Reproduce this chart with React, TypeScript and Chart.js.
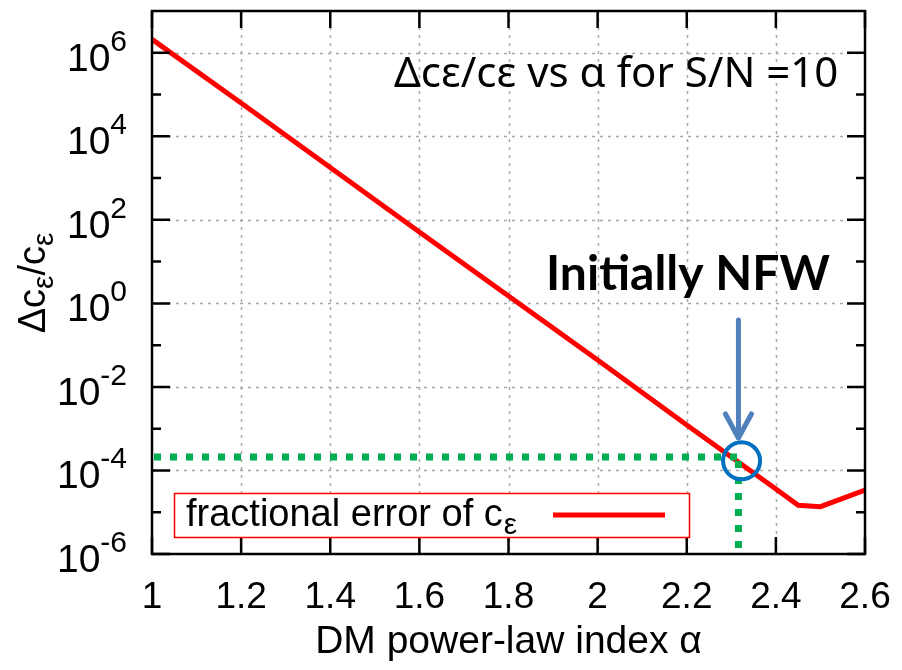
import React, { useEffect, useRef } from "react";
import { Chart, registerables } from "chart.js";

Chart.register(...registerables);

// ---- data ----
const alphaValues = [1.0, 1.2, 1.4, 1.6, 1.8, 2.0, 2.2, 2.3, 2.4, 2.45, 2.5, 2.6];
const fractionalError = [2.1e6, 6.3e4, 1.8e3, 5.1e1, 1.5e0, 4.4e-2, 1.23e-3, 2.1e-4, 3.6e-5, 1.47e-5, 1.36e-5, 3.4e-5];
const xTickValues = [1, 1.2, 1.4, 1.6, 1.8, 2, 2.2, 2.4, 2.6];
const yTickExponents = [-6, -4, -2, 0, 2, 4, 6];
const yMinorExponents = [-5, -3, -1, 1, 3, 5];
const seriesLabel = "fractional error of c";
const seriesSubscript = "ε";
const titleText = "Δcε/cε vs α for S/N =10";
const annotationText = "Initially NFW";
const xAxisTitle = "DM power-law index α";
const nfwAlpha = 2.316;
const nfwError = 2.1e-4;
const circleAlpha = 2.323;
const circleError = 1.7e-4;
const arrowTopValue = 0.4;
const arrowTipValue = 6e-4;

const GN = '"Liberation Sans", Arial, sans-serif';

function text(ctx: CanvasRenderingContext2D, s: string, x: number, y: number, font: string, align: CanvasTextAlign = "left", color = "#000") {
  ctx.font = font;
  ctx.fillStyle = color;
  ctx.textAlign = align;
  ctx.textBaseline = "alphabetic";
  ctx.fillText(s, x, y);
}

const overlayPlugin = {
  id: "gnuplotStyle",
  beforeDatasetsDraw(chart: any) {
    const { ctx, chartArea, scales } = chart;
    const { left, right, top, bottom } = chartArea;
    const x = scales.x, y = scales.y;
    ctx.save();
    ctx.strokeStyle = "#a8a8a8";
    ctx.lineWidth = 1.5;
    ctx.setLineDash([3, 5]);
    for (const e of yTickExponents) {
      const py = Math.round(y.getPixelForValue(Math.pow(10, e))) + 0.5;
      if (py <= top + 2 || py >= bottom - 2) continue;
      ctx.beginPath();
      ctx.moveTo(left, py);
      ctx.lineTo(right, py);
      ctx.stroke();
    }
    for (const v of xTickValues) {
      const px = Math.round(x.getPixelForValue(v)) + 0.5;
      if (px <= left + 2 || px >= right - 2) continue;
      ctx.beginPath();
      ctx.moveTo(px, top);
      ctx.lineTo(px, bottom);
      ctx.stroke();
    }
    ctx.restore();
  },
  afterDatasetsDraw(chart: any) {
    const { ctx, chartArea, scales } = chart;
    const { left, right, top, bottom } = chartArea;
    const x = scales.x, y = scales.y;
    ctx.save();
    ctx.setLineDash([]);

    // frame
    ctx.strokeStyle = "#000";
    ctx.lineWidth = 2.5;
    ctx.strokeRect(left, top, right - left, bottom - top);

    // tick marks
    ctx.lineWidth = 2.5;
    ctx.beginPath();
    for (const e of yTickExponents) {
      const py = y.getPixelForValue(Math.pow(10, e));
      ctx.moveTo(left, py); ctx.lineTo(left + 18, py);
      ctx.moveTo(right, py); ctx.lineTo(right - 18, py);
    }
    for (const e of yMinorExponents) {
      const py = y.getPixelForValue(Math.pow(10, e));
      ctx.moveTo(left, py); ctx.lineTo(left + 9, py);
      ctx.moveTo(right, py); ctx.lineTo(right - 9, py);
    }
    for (const v of xTickValues) {
      const px = x.getPixelForValue(v);
      ctx.moveTo(px, bottom); ctx.lineTo(px, bottom - 17);
      ctx.moveTo(px, top); ctx.lineTo(px, top + 17);
    }
    ctx.stroke();

    // y tick labels 10^n
    for (const e of yTickExponents) {
      const py = y.getPixelForValue(Math.pow(10, e));
      const expStr = String(e);
      ctx.font = `30px ${GN}`;
      const wE = ctx.measureText(expStr).width;
      ctx.font = `39px ${GN}`;
      const w10 = ctx.measureText("10").width;
      const rightEdge = 127;
      text(ctx, "10", rightEdge - wE - w10, py + 18, `39px ${GN}`);
      text(ctx, expStr, rightEdge - wE, py - 2, `30px ${GN}`);
    }

    // x tick labels
    for (const v of xTickValues) {
      const px = x.getPixelForValue(v);
      const lbl = String(Number(v.toFixed(1)));
      text(ctx, lbl, px, 608, `37px ${GN}`, "center");
    }

    // x axis title
    text(ctx, xAxisTitle, (left + right) / 2, 653, `39px ${GN}`, "center");

    // y axis title (rotated) with subscripts
    {
      ctx.save();
      ctx.translate(45, 283);
      ctx.rotate(-Math.PI / 2);
      const parts: [string, boolean][] = [["Δc", false], ["ε", true], ["/c", false], ["ε", true]];
      const mainF = `38px ${GN}`;
      const subF = `30px ${GN}`;
      let total = 0;
      for (const [s, sub] of parts) {
        ctx.font = sub ? subF : mainF;
        total += ctx.measureText(s).width;
      }
      let cx = -total / 2;
      for (const [s, sub] of parts) {
        const f = sub ? subF : mainF;
        ctx.font = f;
        const w = ctx.measureText(s).width;
        text(ctx, s, cx, sub ? 8 : 0, f);
        cx += w;
      }
      ctx.restore();
    }

    // legend box
    ctx.fillStyle = "#fff";
    ctx.fillRect(174, 493, 515, 44);
    ctx.strokeStyle = "#ff0000";
    ctx.lineWidth = 1.5;
    ctx.strokeRect(174.5, 493.5, 515, 44);
    const legF = `38px ${GN}`;
    text(ctx, seriesLabel, 186, 526, legF);
    ctx.font = legF;
    const wl = ctx.measureText(seriesLabel).width;
    text(ctx, seriesSubscript, 186 + wl + 1, 534, `30px ${GN}`);
    ctx.strokeStyle = "#ff0000";
    ctx.lineWidth = 5;
    ctx.beginPath();
    ctx.moveTo(553, 515);
    ctx.lineTo(665, 515);
    ctx.stroke();

    // green dotted guide lines
    const gx = x.getPixelForValue(nfwAlpha);
    const gy = y.getPixelForValue(nfwError);
    ctx.strokeStyle = "#00B050";
    ctx.lineWidth = 7;
    ctx.setLineDash([7, 9]);
    ctx.beginPath();
    ctx.moveTo(left + 2, gy);
    ctx.lineTo(gx + 3, gy);
    ctx.stroke();
    ctx.beginPath();
    ctx.moveTo(gx, gy + 4);
    ctx.lineTo(gx, bottom - 6);
    ctx.stroke();
    ctx.setLineDash([]);

    // blue circle
    const cx = x.getPixelForValue(circleAlpha);
    const cy = y.getPixelForValue(circleError);
    ctx.strokeStyle = "#0070C0";
    ctx.lineWidth = 4;
    ctx.beginPath();
    ctx.arc(cx, cy, 18.5, 0, Math.PI * 2);
    ctx.stroke();

    // arrow
    const ay0 = y.getPixelForValue(arrowTopValue);
    const ay1 = y.getPixelForValue(arrowTipValue);
    ctx.strokeStyle = "#4F81BD";
    ctx.lineWidth = 5;
    ctx.lineCap = "round";
    ctx.lineJoin = "round";
    ctx.beginPath();
    ctx.moveTo(gx, ay0);
    ctx.lineTo(gx, ay1);
    ctx.moveTo(gx - 13, ay1 - 24);
    ctx.lineTo(gx, ay1);
    ctx.lineTo(gx + 13, ay1 - 24);
    ctx.stroke();
    ctx.lineCap = "butt";

    // slide annotations
    text(ctx, titleText, 394, 87, `42px "Noto Sans", "DejaVu Sans", sans-serif`);
    text(ctx, annotationText, 546, 290, `bold 48px Lato, "Noto Sans", sans-serif`);

    ctx.restore();
  },
};

export default function App() {
  const canvasRef = useRef<HTMLCanvasElement | null>(null);

  useEffect(() => {
    const canvas = canvasRef.current;
    if (!canvas) return;
    const chart = new Chart(canvas, {
      type: "line",
      data: {
        datasets: [
          {
            label: seriesLabel,
            data: alphaValues.map((a, i) => ({ x: a, y: fractionalError[i] })),
            borderColor: "#ff0000",
            backgroundColor: "#ff0000",
            borderWidth: 5,
            pointRadius: 0,
            tension: 0,
            fill: false,
          },
        ],
      },
      options: {
        animation: false,
        responsive: false,
        devicePixelRatio: 1,
        layout: { padding: { top: 11, right: 37, bottom: 0, left: 0 } },
        plugins: { legend: { display: false }, tooltip: { enabled: false }, title: { display: false } },
        scales: {
          x: {
            type: "linear",
            min: 1,
            max: 2.6,
            grid: { display: false },
            border: { display: false },
            ticks: { display: false },
            afterBuildTicks: (s: any) => {
              s.ticks = xTickValues.map((v) => ({ value: v }));
            },
            afterFit: (s: any) => {
              s.height = 116;
            },
          },
          y: {
            type: "logarithmic",
            min: 1e-6,
            max: 1e7,
            grid: { display: false },
            border: { display: false },
            ticks: { display: false },
            afterBuildTicks: (s: any) => {
              s.ticks = yTickExponents.map((e) => ({ value: Math.pow(10, e) }));
            },
            afterFit: (s: any) => {
              s.width = 152;
            },
          },
        },
      } as any,
      plugins: [overlayPlugin],
    });
    return () => chart.destroy();
  }, []);

  return (
    <div style={{ position: "absolute", left: 0, top: 0, width: 902, height: 670, background: "#fff" }}>
      <canvas ref={canvasRef} width={902} height={670} style={{ display: "block", width: 902, height: 670 }} />
    </div>
  );
}
